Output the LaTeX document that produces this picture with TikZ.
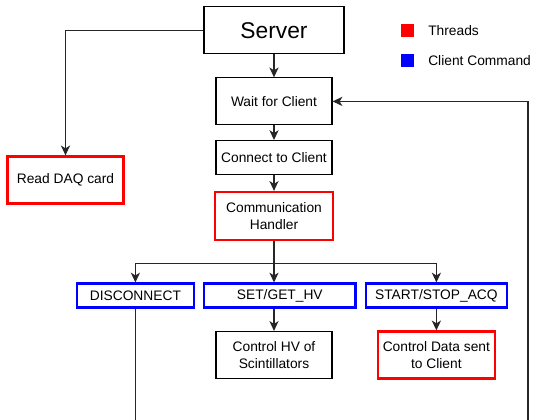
\documentclass[tikz,border=0pt]{standalone}
\usepackage{fontspec}
\setmainfont{Liberation Sans}
\usepackage{tikz}
\usetikzlibrary{arrows.meta,positioning}

\begin{document}
\begin{tikzpicture}[
    >={Stealth[length=7pt,width=6.5pt,inset=2pt]},
    every node/.style={font=\fontsize{9.8}{11.6}\selectfont},
    caja/.style={draw=black, line width=0.8pt, inner sep=0pt, align=center,
                 minimum width=2.9cm, minimum height=1.175cm},
    hilo/.style={caja, draw=red, line width=1.6pt},
    comando/.style={caja, draw=blue, line width=1.6pt, minimum height=0.6cm},
    flecha/.style={draw=black!85, line width=0.9pt}
  ]
  \useasboundingbox (0,0) rectangle (13.35,-10.5);

  % Servidor y leyenda
  \node[caja, minimum width=3.5cm, font=\fontsize{16.2}{19}\selectfont] (server) at (6.85,-0.76) {Server};
  \node[fill=red, minimum size=0.325cm, inner sep=0pt] (rojo) at (10.19,-0.7625) {};
  \node[fill=blue, minimum size=0.325cm, inner sep=0pt] (azul) at (10.19,-1.515) {};
  \node[anchor=west, inner sep=0pt] (hilos) at (10.7,-0.7625) {Threads};
  \node[anchor=west, inner sep=0pt] (cmds) at (10.7,-1.515) {Client Command};

  % Columna central
  \node[caja] (wait) at (6.85,-2.535) {Wait for Client};
  \node[caja, minimum height=0.85cm] (connect) at (6.85,-3.94) {Connect to Client};
  \node[hilo, minimum width=2.95cm, minimum height=1.2cm] (handler) at (6.85,-5.4) {Communication\\Handler};
  \node[hilo] (daq) at (1.6375,-4.5) {Read DAQ card};

  % Comandos del cliente
  \node[comando, minimum width=2.925cm] (disconnect) at (3.385,-7.39) {DISCONNECT};
  \node[comando, minimum width=3.79cm] (setget) at (6.995,-7.39) {SET/GET\_HV};
  \node[comando, minimum width=3.52cm] (startstop) at (10.91,-7.39) {START/STOP\_ACQ};

  % Acciones
  \node[caja] (hv) at (6.85,-8.875) {Control HV of\\Scintillators};
  \node[hilo, minimum width=2.925cm] (ctrldata) at (10.91,-8.875) {Control Data sent\\to Client};

  % Puntos auxiliares
  \coordinate (rama) at (6.85,-6.5875);
  \coordinate (finDisc) at (3.385,-10.5);
  \coordinate (finLazo) at (13.2,-10.5);

  % Conexiones
  \draw[flecha,->] (server) -- (wait);
  \draw[flecha,->] (wait) -- (connect);
  \draw[flecha,->] (connect) -- (handler);
  \draw[flecha,->] (server.west) -| (daq.north);
  \draw[flecha] (handler) -- (rama);
  \draw[flecha,->] (rama) -| (disconnect.north);
  \draw[flecha,->] (rama) -- (rama |- setget.north);
  \draw[flecha,->] (rama) -| (startstop.north);
  \draw[flecha,->] (setget.south -| hv) -- (hv);
  \draw[flecha,->] (startstop) -- (ctrldata);

  % Salida y lazo de vuelta
  \draw[flecha] (disconnect) -- (finDisc);
  \draw[flecha,->] (finLazo) |- (wait.east);

\end{tikzpicture}
\end{document}
